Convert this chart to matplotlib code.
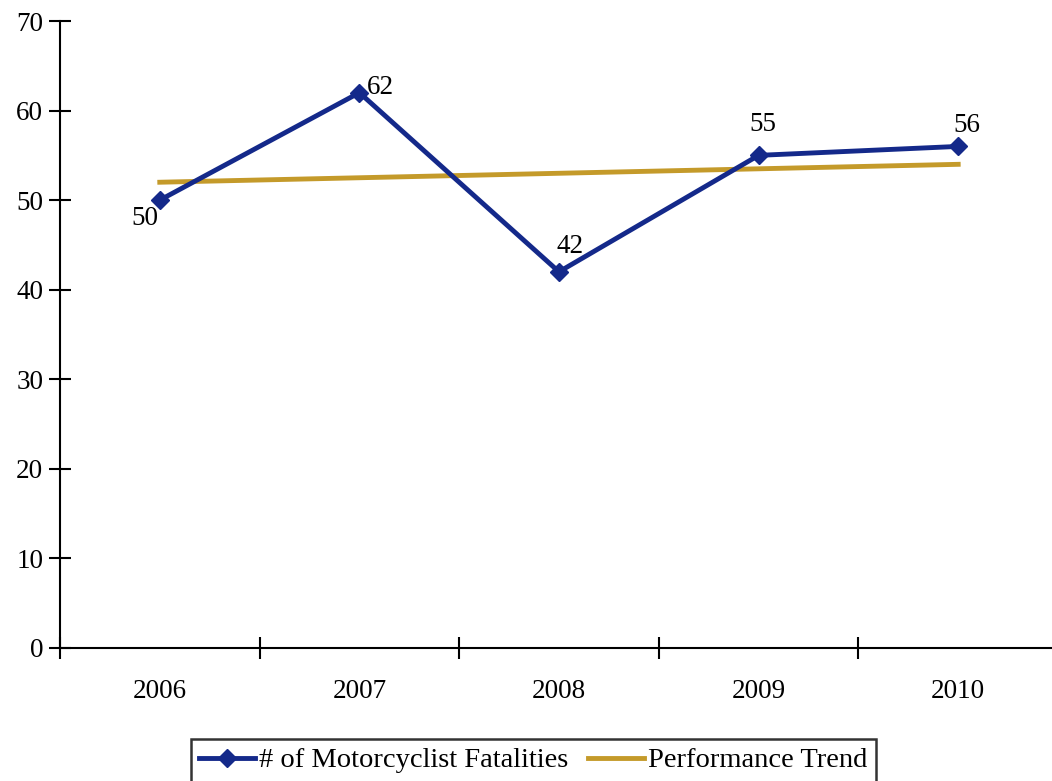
import matplotlib
matplotlib.use("Agg")
import matplotlib.pyplot as plt

years = ["2006", "2007", "2008", "2009", "2010"]
fatalities = [50, 62, 42, 55, 56]
trend = [52, 52.5, 53, 53.5, 54]
y_ticks = [0, 10, 20, 30, 40, 50, 60, 70]

BLUE = "#14298a"
GOLD = "#c49a2a"

plt.rcParams["font.family"] = ["Liberation Serif", "DejaVu Serif"]
plt.rcParams["font.size"] = 19.5

fig = plt.figure(figsize=(10.52, 7.81), dpi=100)
ax = fig.add_axes([0.057, 0.1703, 0.9487, 0.8028])

x = list(range(len(years)))
ax.plot(x, fatalities, color=BLUE, lw=3.5, marker="D", markersize=9,
        label="# of Motorcyclist Fatalities", zorder=3)
ax.plot(x, trend, color=GOLD, lw=3.5, label="Performance Trend", zorder=2)

# data labels
offsets = [(-11, -13), (15, 4), (8, 18), (3, 22), (6, 15)]
for xi, v, (dx, dy) in zip(x, fatalities, offsets):
    ax.annotate(str(v), (xi, v), xytext=(dx, dy), textcoords="offset points",
                ha="center", va="center")

ax.set_xlim(-0.5, 4.5)
ax.set_ylim(0, 70)
ax.set_yticks(y_ticks)
ax.set_xticks(x)
ax.set_xticklabels(years)
ax.set_xticks([i + 0.5 for i in range(-1, len(years))], minor=True)
ax.tick_params(axis="x", which="major", length=0, pad=22)
ax.tick_params(axis="x", which="minor", direction="inout", length=16, width=1.5)
ax.tick_params(axis="y", direction="inout", length=16, width=1.5, pad=4)

for s in ["top", "right"]:
    ax.spines[s].set_visible(False)
for s in ["left", "bottom"]:
    ax.spines[s].set_linewidth(1.5)

leg = fig.legend(loc="upper center", bbox_to_anchor=(0.507, 0.072), ncol=2,
                 frameon=True, fancybox=False, edgecolor="black",
                 handlelength=1.95, handletextpad=0.15, columnspacing=0.7,
                 borderpad=0.3, fontsize=20.5)
leg.get_frame().set_linewidth(1.8)

fig.savefig("out.png", dpi=100)
